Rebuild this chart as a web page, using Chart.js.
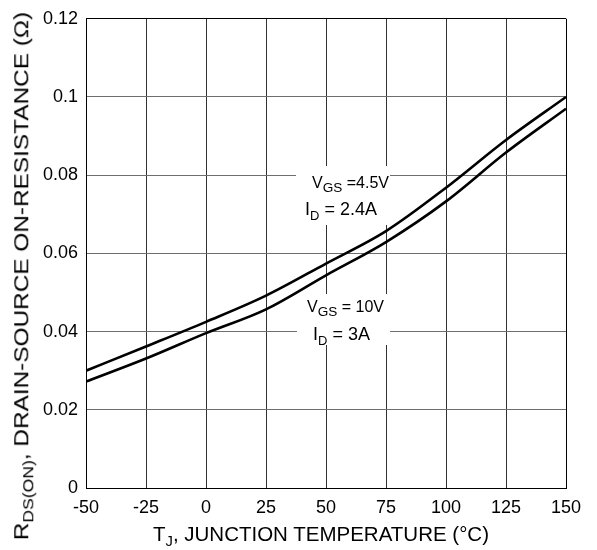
<!DOCTYPE html>
<html>
<head>
<meta charset="utf-8">
<script src="https://cdn.jsdelivr.net/npm/chart.js@4/dist/chart.umd.min.js"></script>
<style>
  body { margin: 0; background: #fff; }
  #wrap { position: relative; width: 597px; height: 550px; font-family: 'Liberation Sans', Arial, sans-serif; color: #000; }
  #chart { position: absolute; left: 0; top: 0; }
  .lbl { position: absolute; white-space: nowrap; line-height: 1; }
  .lbl sub { font-size: 0.72em; vertical-align: -0.35em; line-height: 0; }
  .lbl sub.big { font-size: 0.85em; vertical-align: -0.3em; }
</style>
</head>
<body>
<div id="wrap">
  <canvas id="chart" width="597" height="550"></canvas>
  <div class="lbl" style="left:153px; top:524px; font-size:20.5px;">T<sub>J</sub>, JUNCTION TEMPERATURE (°C)</div>
  <div class="lbl" style="left:22px; top:276px; font-size:19.5px; transform: translate(-50%, -50%) rotate(-90deg) scaleX(1.25);">R<sub>DS(ON)</sub>, DRAIN-SOURCE ON-RESISTANCE (Ω)</div>
  <div class="lbl" style="left:312px; top:175px; font-size:16px;">V<sub class="big">GS</sub> =4.5V</div>
  <div class="lbl" style="left:305px; top:200px; font-size:18px;">I<sub>D</sub> = 2.4A</div>
  <div class="lbl" style="left:307px; top:299px; font-size:16px;">V<sub class="big">GS</sub> = 10V</div>
  <div class="lbl" style="left:313px; top:325px; font-size:18px;">I<sub>D</sub> = 3A</div>
</div>
<script>
// junction temperature (°C)
const temps = [-50, -25, 0, 25, 50, 75, 100, 125, 150];
// R_DS(on) in ohms, VGS = 4.5V, ID = 2.4A
const rdsVgs45 = [0.0300, 0.0362, 0.0425, 0.0492, 0.0574, 0.0657, 0.0768, 0.0890, 0.1000];
// R_DS(on) in ohms, VGS = 10V, ID = 3A
const rdsVgs10 = [0.0272, 0.0331, 0.0396, 0.0457, 0.0544, 0.0629, 0.0733, 0.0858, 0.0970];

const yTickLabels = ['0', '0.02', '0.04', '0.06', '0.08', '0.1', '0.12'];
const xTickLabels = ['-50', '-25', '0', '25', '50', '75', '100', '125', '150'];

const FONT = { family: "'Liberation Sans', Arial, sans-serif", size: 18 };

// white patches behind the curve labels, drawn over the grid
const labelBoxes = {
    id: 'labelBoxes',
    beforeDatasetsDraw (chart) {
        const ctx = chart.ctx;
        ctx.save();
        ctx.fillStyle = '#fff';
        ctx.fillRect(296, 166, 94, 59);
        ctx.fillRect(297, 294, 93, 51);
        ctx.restore();
    }
};

function toPoints (ys) {
    return temps.map((t, i) => ({ x: t, y: ys[i] }));
}

new Chart(document.getElementById('chart'), {
    type: 'line',
    data: {
        datasets: [
            { label: 'VGS = 4.5V', data: toPoints(rdsVgs45) },
            { label: 'VGS = 10V', data: toPoints(rdsVgs10) }
        ]
    },
    options: {
        responsive: false,
        animation: false,
        layout: { padding: { top: 12, right: 31, left: 0, bottom: 0 } },
        elements: {
            point: { radius: 0 },
            line: { borderColor: '#000', borderWidth: 2.6, cubicInterpolationMode: 'monotone' }
        },
        plugins: {
            legend: { display: false },
            tooltip: { enabled: false }
        },
        scales: {
            x: {
                type: 'linear',
                min: -50,
                max: 150,
                afterFit: scale => { scale.height = 62; },
                border: { color: '#000', width: 1 },
                grid: {
                    drawTicks: false,
                    color: c => c.tick && c.tick.value === 150 ? '#000' : '#333'
                },
                ticks: {
                    stepSize: 25,
                    padding: 9,
                    color: '#000',
                    font: FONT,
                    maxRotation: 0,
                    callback: (v, i) => xTickLabels[i]
                }
            },
            y: {
                min: 0,
                max: 0.12,
                afterFit: scale => { scale.width = 86; },
                border: { color: '#000', width: 1 },
                grid: {
                    drawTicks: false,
                    color: c => c.tick && Math.abs(c.tick.value - 0.12) < 1e-9 ? '#000' : '#6e6e6e'
                },
                ticks: {
                    stepSize: 0.02,
                    padding: 8,
                    color: '#000',
                    font: FONT,
                    callback: (v, i) => yTickLabels[i]
                }
            }
        }
    },
    plugins: [labelBoxes]
});
</script>
</body>
</html>
